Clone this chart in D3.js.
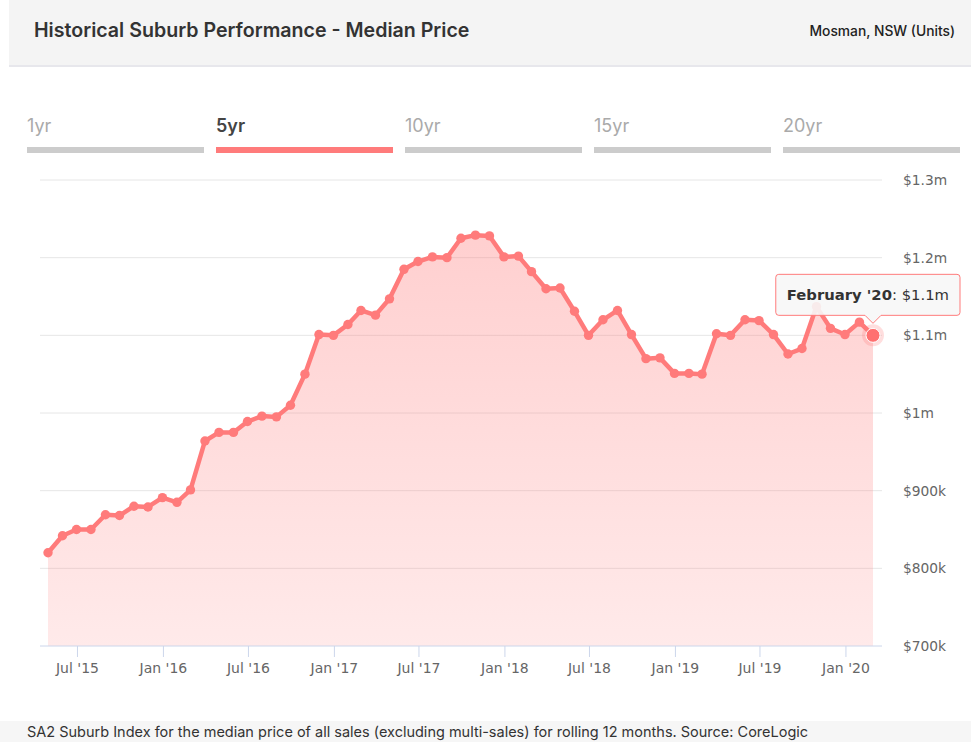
<!DOCTYPE html>
<html>
<head>
<meta charset="utf-8">
<script src="https://cdn.jsdelivr.net/npm/d3@7"></script>
<style>
  body { margin: 0; background: #fff; }
  #wrapper { width: 971px; height: 742px; }
</style>
</head>
<body>
<div id="wrapper" class="wrapper"></div>
<script>
const months = [
  "2015-04", "2015-05", "2015-06", "2015-07", "2015-08", "2015-09", "2015-10", "2015-11", "2015-12",
  "2016-01", "2016-02", "2016-03", "2016-04", "2016-05", "2016-06", "2016-07", "2016-08", "2016-09", "2016-10", "2016-11", "2016-12",
  "2017-01", "2017-02", "2017-03", "2017-04", "2017-05", "2017-06", "2017-07", "2017-08", "2017-09", "2017-10", "2017-11", "2017-12",
  "2018-01", "2018-02", "2018-03", "2018-04", "2018-05", "2018-06", "2018-07", "2018-08", "2018-09", "2018-10", "2018-11", "2018-12",
  "2019-01", "2019-02", "2019-03", "2019-04", "2019-05", "2019-06", "2019-07", "2019-08", "2019-09", "2019-10", "2019-11", "2019-12",
  "2020-01", "2020-02"
]

// median price, $k
const medianPrice = [
  820, 842, 850, 850, 869, 868, 880, 879, 891,
  885, 901, 964, 975, 975, 989, 996, 995, 1010, 1050, 1101, 1100,
  1114, 1132, 1126, 1147, 1185, 1195, 1201, 1200, 1225, 1229, 1228, 1201,
  1202, 1182, 1160, 1161, 1131, 1100, 1120, 1132, 1101, 1070, 1071, 1051,
  1051, 1050, 1102, 1100, 1120, 1119, 1101, 1076, 1083, 1137, 1109, 1101,
  1117, 1100
]

const yTicks = [700, 800, 900, 1000, 1100, 1200, 1300]
const xTickMonths = ["2015-07", "2016-01", "2016-07", "2017-01", "2017-07", "2018-01", "2018-07", "2019-01", "2019-07", "2020-01"]
const rangeTabs = ["1yr", "5yr", "10yr", "15yr", "20yr"]
const activeTab = "5yr"

const title = "Historical Suburb Performance - Median Price"
const subtitle = "Mosman, NSW (Units)"
const footnote = "SA2 Suburb Index for the median price of all sales (excluding multi-sales) for rolling 12 months. Source: CoreLogic"

draw()

function draw() {
    const parseMonth = d3.timeParse("%Y-%m")
    // each value is for the month just ended
    const monthEnd = d => d3.timeDay.offset(d3.timeMonth.offset(parseMonth(d), 1), -1)
    const dataset = months.map((m, i) => ({month: parseMonth(m), date: monthEnd(m), value: medianPrice[i]}))

    const lineColor = "#ff7b7b"
    let dimensions = {
        width: 971,
        height: 742,
        margin: {
            top: 180,
            right: 91,
            bottom: 96,
            left: 40,
        }
    }
    dimensions.boundedWidth = dimensions.width - dimensions.margin.left - dimensions.margin.right
    dimensions.boundedHeight = dimensions.height - dimensions.margin.top - dimensions.margin.bottom

    const wrapper = d3.select("#wrapper")
        .append("svg")
            .attr("width", dimensions.width)
            .attr("height", dimensions.height)
            .style("font-family", "'DejaVu Sans', sans-serif")

    // header
    wrapper.append("rect")
        .attr("x", 9)
        .attr("y", 0)
        .attr("width", dimensions.width - 9)
        .attr("height", 66)
        .attr("fill", "#f4f4f4")
    wrapper.append("rect")
        .attr("x", 9)
        .attr("y", 65)
        .attr("width", dimensions.width - 9)
        .attr("height", 2)
        .attr("fill", "#e7e7ec")
    wrapper.append("text")
        .attr("x", 34)
        .attr("y", 37)
        .style("font-family", "Inter, sans-serif")
        .style("font-weight", 600)
        .style("font-size", "19.6px")
        .attr("fill", "#333")
        .text(title)
    wrapper.append("text")
        .attr("x", 955)
        .attr("y", 36)
        .attr("text-anchor", "end")
        .style("font-family", "Inter, sans-serif")
        .style("font-weight", 500)
        .style("font-size", "13.8px")
        .attr("fill", "#222")
        .text(subtitle)

    // range tabs
    const tabScale = d3.scaleBand()
        .domain(rangeTabs)
        .range([27, 960])
        .paddingInner(0.0635)
        .paddingOuter(0)
    const tabs = wrapper.append("g")
        .selectAll("g")
        .data(rangeTabs)
        .join("g")
            .attr("transform", d => `translate(${tabScale(d)}, 0)`)
    tabs.append("text")
        .attr("y", 132)
        .style("font-family", "Inter, sans-serif")
        .style("font-size", "18px")
        .style("font-weight", d => d == activeTab ? 600 : 400)
        .attr("fill", d => d == activeTab ? "#444" : "#aaa")
        .text(d => d)
    tabs.append("rect")
        .attr("y", 147)
        .attr("width", tabScale.bandwidth())
        .attr("height", 6)
        .attr("fill", d => d == activeTab ? lineColor : "#cccccc")

    // footer
    wrapper.append("rect")
        .attr("x", 0)
        .attr("y", 721)
        .attr("width", dimensions.width)
        .attr("height", 21)
        .attr("fill", "#f6f6f6")
    wrapper.append("text")
        .attr("x", 27)
        .attr("y", 737)
        .style("font-family", "Inter, sans-serif")
        .style("font-size", "14.5px")
        .attr("fill", "#333")
        .text(footnote)

    const bounds = wrapper.append("g")
        .style("transform", `translate(${dimensions.margin.left}px, ${dimensions.margin.top}px)`)

    const xAccessor = d => d.date
    const yAccessor = d => d.value

    const xScale = d3.scaleTime()
        .domain(d3.extent(dataset, xAccessor))
        .range([8, 833])

    const yScale = d3.scaleLinear()
        .domain(d3.extent(yTicks))
        .range([dimensions.boundedHeight, 0])

    const formatPrice = v => v >= 1000 ? `$${d3.format("~g")(v / 1000)}m` : `$${v}k`

    // gridlines + y labels
    const yAxis = bounds.append("g")
        .selectAll("g")
        .data(yTicks)
        .join("g")
            .attr("transform", d => `translate(0, ${yScale(d)})`)
    yAxis.filter(d => d != yTicks[0]).append("line")
        .attr("x2", dimensions.boundedWidth + 2)
        .attr("stroke", "#e6e6e6")
    yAxis.append("text")
        .attr("x", dimensions.boundedWidth + 23)
        .attr("dy", "0.35em")
        .style("font-size", "13.8px")
        .attr("fill", "#666")
        .text(formatPrice)

    // area
    const defs = wrapper.append("defs")
    const gradient = defs.append("linearGradient")
        .attr("id", "area-gradient")
        .attr("x1", 0).attr("x2", 0)
        .attr("y1", 0).attr("y2", 1)
    gradient.append("stop").attr("offset", "0%").attr("stop-color", lineColor).attr("stop-opacity", 0.36)
    gradient.append("stop").attr("offset", "100%").attr("stop-color", lineColor).attr("stop-opacity", 0.16)

    const areaGenerator = d3.area()
        .x(d => xScale(xAccessor(d)))
        .y0(dimensions.boundedHeight)
        .y1(d => yScale(yAccessor(d)))
    bounds.append("path")
        .attr("d", areaGenerator(dataset))
        .attr("fill", "url(#area-gradient)")

    // x axis
    const xAxisGenerator = d3.axisBottom()
        .scale(xScale)
        .tickValues(xTickMonths.map(parseMonth))
        .tickFormat(d3.timeFormat("%b '%y"))
        .tickSize(11)
        .tickPadding(6)
    const xAxis = bounds.append("g")
        .style("transform", `translateY(${dimensions.boundedHeight}px)`)
        .call(xAxisGenerator)
    xAxis.select(".domain").remove()
    xAxis.selectAll(".tick line").attr("stroke", "#ccd6eb")
    xAxis.selectAll(".tick text")
        .style("font-family", "'DejaVu Sans', sans-serif")
        .style("font-size", "14px")
        .attr("fill", "#666")
    xAxis.append("line")
        .attr("x2", dimensions.boundedWidth + 2)
        .attr("stroke", "#ccd6eb")

    // line + markers
    const lineGenerator = d3.line()
        .x(d => xScale(xAccessor(d)))
        .y(d => yScale(yAccessor(d)))
    bounds.append("path")
        .attr("d", lineGenerator(dataset))
        .attr("fill", "none")
        .attr("stroke", lineColor)
        .attr("stroke-width", 4.5)
        .attr("stroke-linejoin", "round")
    bounds.append("g")
        .selectAll("circle")
        .data(dataset)
        .join("circle")
            .attr("cx", d => xScale(xAccessor(d)))
            .attr("cy", d => yScale(yAccessor(d)))
            .attr("r", 4.7)
            .attr("fill", lineColor)

    // hovered point
    const last = dataset[dataset.length - 1]
    const px = xScale(xAccessor(last))
    const py = yScale(yAccessor(last))
    bounds.append("circle")
        .attr("cx", px).attr("cy", py)
        .attr("r", 11)
        .attr("fill", lineColor)
        .attr("opacity", 0.25)
    bounds.append("circle")
        .attr("cx", px).attr("cy", py)
        .attr("r", 7)
        .attr("fill", "#ff7070")
        .attr("stroke", "#fff")
        .attr("stroke-width", 1)

    // tooltip
    const tooltip = bounds.append("g")
    const tipText = tooltip.append("text")
        .style("font-size", "14.8px")
        .attr("fill", "#333")
    tipText.append("tspan")
        .style("font-weight", "bold")
        .text(d3.timeFormat("%B '%y")(last.month))
    tipText.append("tspan")
        .text(`: ${formatPrice(last.value)}`)
    const textWidth = tipText.node().getComputedTextLength()
    const boxW = textWidth + 22
    const boxH = 41
    const x1 = px + 87
    const x0 = x1 - boxW
    const y1 = py - 20
    const y0 = y1 - boxH
    const r = 3
    const tipX = px
    const tipY = py - 12
    tooltip.insert("path", "text")
        .attr("d", `M${x0 + r},${y0} H${x1 - r} Q${x1},${y0} ${x1},${y0 + r} V${y1 - r} Q${x1},${y1} ${x1 - r},${y1}
            H${tipX + 8} L${tipX},${tipY} L${tipX - 8},${y1} H${x0 + r} Q${x0},${y1} ${x0},${y1 - r} V${y0 + r} Q${x0},${y0} ${x0 + r},${y0} Z`)
        .attr("fill", "rgba(247,247,247,0.9)")
        .attr("stroke", lineColor)
        .attr("stroke-width", 1)
    tipText
        .attr("x", x0 + 11)
        .attr("y", y0 + 26)
}
</script>
</body>
</html>
